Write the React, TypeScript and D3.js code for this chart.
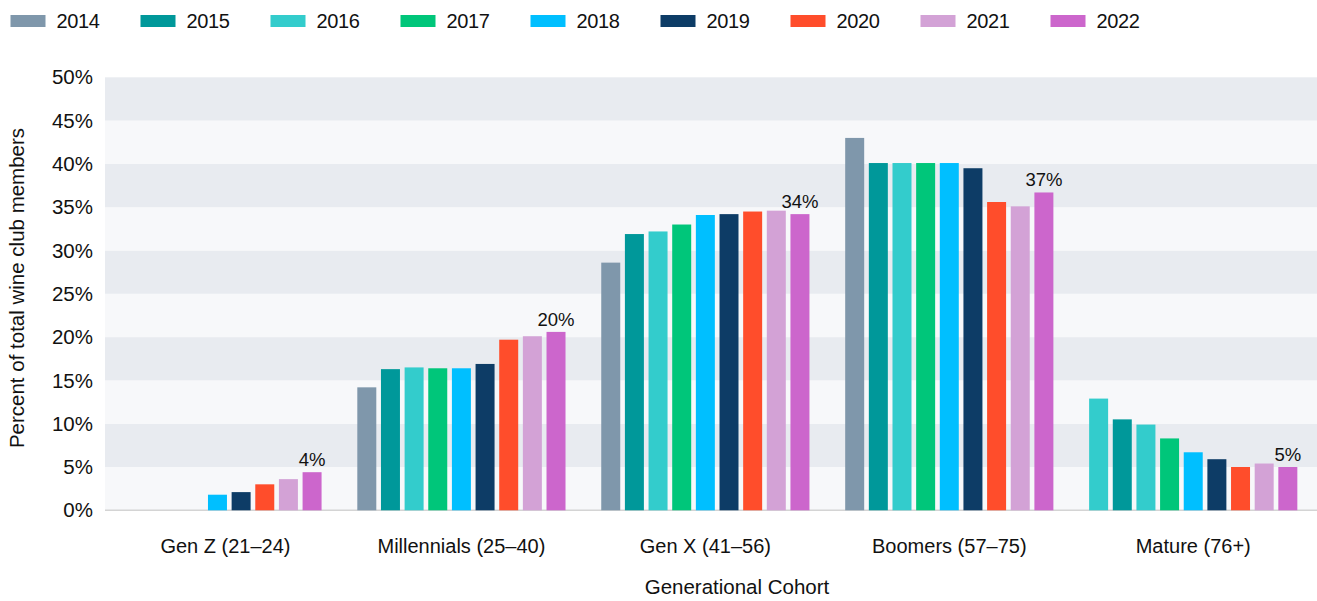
import React from "react";
import * as d3 from "d3";

const categories = ["Gen Z (21–24)", "Millennials (25–40)", "Gen X (41–56)", "Boomers (57–75)", "Mature (76+)"];
const years = ["2014", "2015", "2016", "2017", "2018", "2019", "2020", "2021", "2022"];
const yearColors = ["#7F97AB", "#00989A", "#33CCCC", "#00C67A", "#00BFFF", "#0D3C66", "#FF4D2B", "#D3A2D6", "#CC66CC"];

// values per year (rows) across categories (columns); null = no bar
const v2014 = [null, 14.2, 28.6, 43.0, 12.9];
const v2015 = [null, 16.3, 31.9, 40.1, 10.5];
const v2016 = [null, 16.5, 32.2, 40.1, 9.9];
const v2017 = [null, 16.4, 33.0, 40.1, 8.3];
const v2018 = [1.8, 16.4, 34.1, 40.1, 6.7];
const v2019 = [2.1, 16.9, 34.2, 39.5, 5.9];
const v2020 = [3.0, 19.7, 34.5, 35.6, 5.0];
const v2021 = [3.6, 20.1, 34.6, 35.1, 5.4];
const v2022 = [4.4, 20.6, 34.2, 36.7, 5.0];
const seriesValues = [v2014, v2015, v2016, v2017, v2018, v2019, v2020, v2021, v2022];

const valueLabels = ["4%", "20%", "34%", "37%", "5%"];
const yTicks = [0, 5, 10, 15, 20, 25, 30, 35, 40, 45, 50];
const barColorOverrides = [{ category: "Mature (76+)", year: "2014", color: "#33CCCC" }];

const W = 1317;
const H = 601;
const FONT = "'Liberation Sans', Arial, sans-serif";

export default function App() {
  const plotLeft = 105;
  const plotRight = 1317;
  const y = d3.scaleLinear().domain([0, 50]).range([510.3, 77.3]);
  const x0 = d3.scaleBand<string>().domain(categories).range([95.5, 1315.2]);
  const x1 = d3.scaleBand<string>().domain(years).range([-104.1, 104.1]).paddingInner(0.197);

  const bands = d3.range(0, 50, 5);

  const colorFor = (cat: string, yr: string, i: number) => {
    const o = barColorOverrides.find((d) => d.category === cat && d.year === yr);
    return o ? o.color : yearColors[i];
  };

  return (
    <svg width={W} height={H} style={{ position: "absolute", left: 0, top: 0, background: "#fff" }} fontFamily={FONT}>
      {/* background bands */}
      {bands.map((b) => (
        <rect
          key={b}
          x={plotLeft}
          width={plotRight - plotLeft}
          y={y(b + 5)}
          height={y(b) - y(b + 5)}
          fill={(b / 5) % 2 === 0 ? "#F7F8FA" : "#E8EBF0"}
        />
      ))}
      <line x1={plotLeft} x2={plotRight} y1={y(0)} y2={y(0)} stroke="#D4D4D4" strokeWidth={1.5} />

      {/* y ticks */}
      {yTicks.map((t) => (
        <text key={t} x={93} y={y(t)} dy="0.35em" textAnchor="end" fontSize={20.5} fill="#111">
          {t}%
        </text>
      ))}
      <text transform={`translate(24,${288}) rotate(-90)`} textAnchor="middle" fontSize={20.5} fill="#111">
        Percent of total wine club members
      </text>

      {/* bars */}
      {categories.map((cat, ci) => {
        const cx = (x0(cat) as number) + x0.bandwidth() / 2;
        return (
          <g key={cat}>
            {years.map((yr, yi) => {
              const v = seriesValues[yi][ci];
              if (v == null) return null;
              return (
                <rect
                  key={yr}
                  x={cx + (x1(yr) as number)}
                  width={x1.bandwidth()}
                  y={y(v)}
                  height={y(0) - y(v)}
                  fill={colorFor(cat, yr, yi)}
                />
              );
            })}
            <text
              x={cx + (x1("2022") as number) + x1.bandwidth() / 2}
              y={y(seriesValues[8][ci] as number) - 6}
              textAnchor="middle"
              fontSize={18.5}
              fill="#111"
            >
              {valueLabels[ci]}
            </text>
            <text x={cx + (ci === 0 ? 8 : 0)} y={553} textAnchor="middle" fontSize={20} fill="#111">
              {cat}
            </text>
          </g>
        );
      })}

      <text x={737} y={594} textAnchor="middle" fontSize={20.5} fill="#111">
        Generational Cohort
      </text>

      {/* legend */}
      {years.map((yr, i) => {
        const lx = 10.5 + i * 130;
        return (
          <g key={yr}>
            <rect x={lx} y={15} width={35} height={12} fill={yearColors[i]} />
            <text x={lx + 46} y={28} fontSize={20} letterSpacing={-0.4} fill="#111">
              {yr}
            </text>
          </g>
        );
      })}
    </svg>
  );
}
